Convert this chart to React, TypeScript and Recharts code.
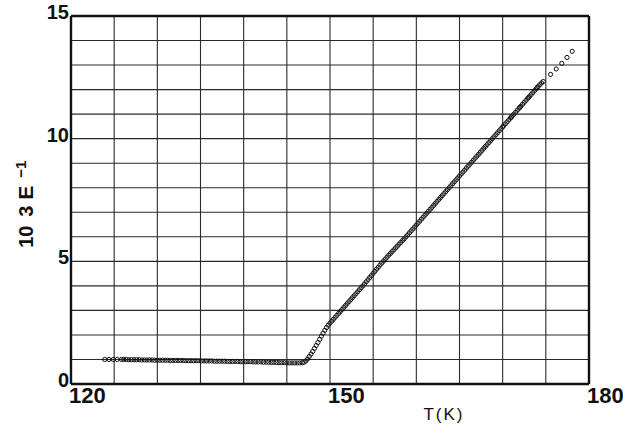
import React from 'react';
import { ScatterChart, Scatter, XAxis, YAxis, ReferenceLine } from 'recharts';

const xTicks = [120, 150, 180];
const yTicks = [0, 5, 10, 15];
const gridT = [125, 130, 135, 140, 145, 150, 155, 160, 165, 170, 175];
const gridV = [1, 2, 3, 4, 5, 6, 7, 8, 9, 10, 11, 12, 13, 14];
const borderT = [120, 180];
const borderV = [0, 15];

// low-temperature plateau (T in K, 10^3 / eps)
const flatPoints: [number, number][] = [
  [123.9, 1.0], [124.4, 1.0], [124.9, 1.0], [125.35, 1.0], [125.85, 1.0],
  [126.1, 1.0], [126.4, 1.0], [126.7, 0.99], [127.0, 0.99], [127.3, 0.99], [127.6, 0.99], [127.9, 0.99], [128.2, 0.98], [128.5, 0.98], [128.8, 0.98],
  [129.1, 0.98], [129.4, 0.98], [129.7, 0.97], [130.0, 0.97], [130.3, 0.97], [130.6, 0.97], [130.9, 0.97], [131.2, 0.97], [131.5, 0.96], [131.8, 0.96],
  [132.1, 0.96], [132.4, 0.96], [132.7, 0.96], [133.0, 0.96], [133.3, 0.95], [133.6, 0.95], [133.9, 0.95], [134.2, 0.95], [134.5, 0.95], [134.8, 0.95],
  [135.1, 0.94], [135.4, 0.94], [135.7, 0.94], [136.0, 0.94], [136.3, 0.94], [136.6, 0.93], [136.9, 0.93], [137.2, 0.93], [137.5, 0.93], [137.8, 0.93],
  [138.1, 0.92], [138.4, 0.92], [138.7, 0.92], [139.0, 0.92], [139.3, 0.92], [139.6, 0.91], [139.9, 0.91], [140.2, 0.91], [140.5, 0.91], [140.8, 0.91],
  [141.1, 0.9], [141.4, 0.9], [141.7, 0.9], [142.0, 0.9], [142.3, 0.89], [142.6, 0.89], [142.9, 0.89], [143.2, 0.88], [143.5, 0.88], [143.8, 0.88],
  [144.1, 0.87], [144.4, 0.87], [144.7, 0.87], [145.0, 0.86], [145.3, 0.86], [145.6, 0.86], [145.9, 0.86], [146.2, 0.86], [146.5, 0.86], [146.8, 0.87], [147.0, 0.89],
];

// linear rise above the transition
const risePoints: [number, number][] = [
  [147.2, 0.94], [147.4, 1.02], [147.6, 1.12], [147.8, 1.22], [148.0, 1.33], [148.2, 1.45], [148.4, 1.57], [148.6, 1.69], [148.8, 1.82], [149.0, 1.95],
  [149.2, 2.07], [149.4, 2.19], [149.6, 2.3], [149.8, 2.4], [150.0, 2.48], [150.2, 2.56], [150.4, 2.64], [150.6, 2.72], [150.8, 2.8], [151.0, 2.88],
  [151.2, 2.96], [151.4, 3.04], [151.6, 3.12], [151.8, 3.2], [152.0, 3.28], [152.2, 3.36], [152.4, 3.44], [152.6, 3.52], [152.8, 3.6], [153.0, 3.68],
  [153.2, 3.76], [153.4, 3.84], [153.6, 3.92], [153.8, 4.0], [154.0, 4.08], [154.2, 4.17], [154.4, 4.25], [154.6, 4.34], [154.8, 4.42], [155.0, 4.51],
  [155.2, 4.59], [155.4, 4.68], [155.6, 4.76], [155.8, 4.85], [156.0, 4.93], [156.2, 5.01], [156.4, 5.09], [156.6, 5.17], [156.8, 5.25], [157.0, 5.32],
  [157.2, 5.4], [157.4, 5.47], [157.6, 5.55], [157.8, 5.62], [158.0, 5.7], [158.2, 5.77], [158.4, 5.85], [158.6, 5.92], [158.8, 6.0], [159.0, 6.08],
  [159.2, 6.16], [159.4, 6.24], [159.6, 6.32], [159.8, 6.4], [160.0, 6.48], [160.2, 6.56], [160.4, 6.64], [160.6, 6.72], [160.8, 6.8], [161.0, 6.88],
  [161.2, 6.96], [161.4, 7.04], [161.6, 7.12], [161.8, 7.2], [162.0, 7.28], [162.2, 7.36], [162.4, 7.44], [162.6, 7.52], [162.8, 7.6], [163.0, 7.68],
  [163.2, 7.76], [163.4, 7.84], [163.6, 7.92], [163.8, 8.0], [164.0, 8.08], [164.2, 8.16], [164.4, 8.24], [164.6, 8.32], [164.8, 8.4], [165.0, 8.48],
  [165.2, 8.56], [165.4, 8.64], [165.6, 8.72], [165.8, 8.8], [166.0, 8.88], [166.2, 8.96], [166.4, 9.04], [166.6, 9.12], [166.8, 9.2], [167.0, 9.28],
  [167.2, 9.36], [167.4, 9.44], [167.6, 9.52], [167.8, 9.6], [168.0, 9.68], [168.2, 9.76], [168.4, 9.84], [168.6, 9.92], [168.8, 10.0], [169.0, 10.08],
  [169.2, 10.16], [169.4, 10.24], [169.6, 10.32], [169.8, 10.4], [170.0, 10.48], [170.1, 10.52], [170.3, 10.6], [170.5, 10.68], [170.7, 10.76], [170.9, 10.84],
  [171.0, 10.88], [171.1, 10.92], [171.3, 11.0], [171.5, 11.08], [171.7, 11.16], [171.9, 11.24], [172.0, 11.28], [172.1, 11.32], [172.3, 11.4], [172.5, 11.48],
  [172.7, 11.56], [172.9, 11.64], [173.0, 11.68], [173.1, 11.72], [173.3, 11.8], [173.5, 11.88], [173.7, 11.96], [173.9, 12.04], [174.0, 12.08], [174.1, 12.12],
  [174.3, 12.2], [174.5, 12.27], [174.7, 12.33],
];

// sparse points above the dense line
const tailPoints: [number, number][] = [
  [175.55, 12.62], [176.2, 12.84], [176.85, 13.07], [177.45, 13.31], [178.05, 13.56],
];

const FONT = '"Liberation Sans", Arial, Helvetica, sans-serif';

const data = [...flatPoints, ...risePoints, ...tailPoints].map(([t, v]) => ({ t, v }));

const Ring = (props: any) => {
  const { cx, cy } = props;
  if (cx == null || cy == null) return null;
  return <circle cx={cx} cy={cy} r={2.1} fill="none" stroke="#111" strokeWidth={1} />;
};

const XTick = ({ x, y, payload }: any) => (
  <text x={x - 2} y={y + 19} textAnchor="start" fontFamily={FONT} fontWeight="bold" fontSize={22} fill="#111">
    {payload.value}
  </text>
);

const YTick = ({ x, y, payload }: any) => (
  <text x={x - 2} y={y + 3} textAnchor="end" fontFamily={FONT} fontWeight="bold" fontSize={20} fill="#111">
    {payload.value}
  </text>
);

const XLabel = ({ viewBox }: any) => {
  const { x, y, width } = viewBox;
  return (
    <text x={x + width * 0.72} y={y + 36} textAnchor="middle" fontFamily={FONT} fontSize={17} letterSpacing={2} fill="#111">
      T(K)
    </text>
  );
};

const YLabel = ({ viewBox }: any) => {
  const { x, y, height } = viewBox;
  const bx = x + 33;
  const by = y + height * 0.63;
  return (
    <g transform={`translate(${bx},${by}) rotate(-90)`} fontFamily={FONT} fontWeight="bold" fill="#111">
      <text x={0} y={0} fontSize={20}>10</text>
      <text x={31} y={0} fontSize={20}>3</text>
      <text x={48} y={0} fontSize={21}>E</text>
      <text x={70} y={-7} fontSize={15}>−1</text>
    </g>
  );
};

export default function App() {
  return (
    <div style={{ position: 'absolute', left: 0, top: 0, width: 623, height: 425, background: '#fff' }}>
      <ScatterChart width={623} height={425} margin={{ top: 16, right: 34, bottom: 0, left: 0 }}>
        <XAxis
          dataKey="t"
          type="number"
          domain={[120, 180]}
          ticks={xTicks}
          height={41}
          axisLine={false}
          tickLine={false}
          tickSize={0}
          tickMargin={0}
          tick={<XTick />}
          interval={0}
          label={<XLabel />}
        />
        <YAxis
          dataKey="v"
          type="number"
          domain={[0, 15]}
          ticks={yTicks}
          width={71}
          axisLine={false}
          tickLine={false}
          tickSize={0}
          tickMargin={0}
          tick={<YTick />}
          interval={0}
          label={<YLabel />}
        />
        {gridT.map((t) => (
          <ReferenceLine key={'gx' + t} x={t} stroke="#2a2a2a" strokeWidth={1.1} />
        ))}
        {gridV.map((v) => (
          <ReferenceLine key={'gy' + v} y={v} stroke="#2a2a2a" strokeWidth={1.1} />
        ))}
        {borderT.map((t) => (
          <ReferenceLine key={'bx' + t} x={t} stroke="#111" strokeWidth={2.4} />
        ))}
        {borderV.map((v) => (
          <ReferenceLine key={'by' + v} y={v} stroke="#111" strokeWidth={2.4} />
        ))}
        <Scatter data={data} shape={<Ring />} isAnimationActive={false} />
      </ScatterChart>
    </div>
  );
}
